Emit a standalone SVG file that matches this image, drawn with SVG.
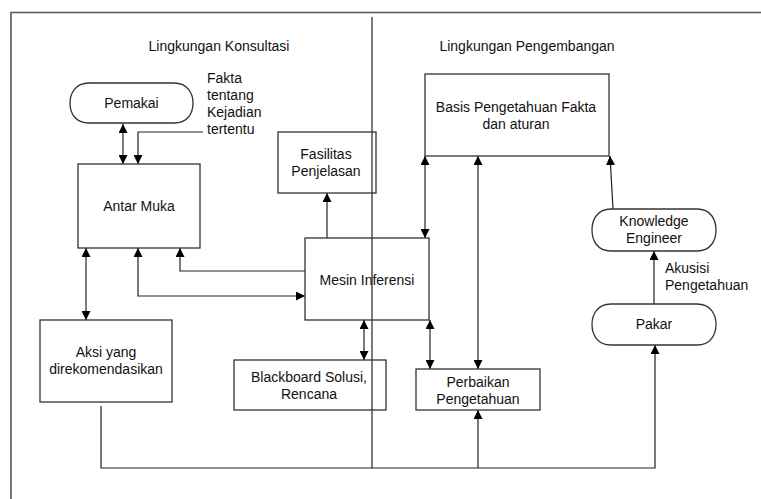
<svg xmlns="http://www.w3.org/2000/svg" width="761" height="499" viewBox="0 0 761 499">
<defs>
<marker id="ah" viewBox="0 0 10 10" refX="10" refY="5" markerWidth="9" markerHeight="9" markerUnits="userSpaceOnUse" orient="auto-start-reverse">
<path d="M0,0 L10,5 L0,10 Z" fill="#000"/>
</marker>
</defs>
<style>
.box{fill:none;stroke:#333;stroke-width:1.3}
.frame{fill:none;stroke:#555;stroke-width:1.6}
.ln{fill:none;stroke:#222;stroke-width:1.2}
text{font-family:"Liberation Sans",Arial,sans-serif;font-size:14px;fill:#111}
.c{text-anchor:middle}
</style>
<rect width="761" height="499" fill="#fff"/>
<g id="frame">
<path class="frame" d="M11,499 V12.5 H761"/>
<line class="ln" x1="372" y1="17" x2="372" y2="468" stroke="#333"/>
<text class="c" x="219" y="51">Lingkungan Konsultasi</text>
<text class="c" x="527" y="51">Lingkungan Pengembangan</text>
</g>
<g id="connectors">
<line class="ln" x1="123" y1="124" x2="123" y2="164" marker-start="url(#ah)" marker-end="url(#ah)"/>
<path class="ln" d="M203,132 H138 V164" marker-end="url(#ah)"/>
<line class="ln" x1="327" y1="238" x2="327" y2="193" marker-end="url(#ah)"/>
<path class="ln" d="M305,271 H180 V248" marker-end="url(#ah)"/>
<path class="ln" d="M138,248 V296 H305" marker-start="url(#ah)" marker-end="url(#ah)"/>
<line class="ln" x1="86" y1="248" x2="86" y2="320" marker-start="url(#ah)" marker-end="url(#ah)"/>
<line class="ln" x1="364" y1="320" x2="364" y2="360" marker-start="url(#ah)" marker-end="url(#ah)"/>
<line class="ln" x1="425" y1="156" x2="425" y2="238" marker-start="url(#ah)" marker-end="url(#ah)"/>
<line class="ln" x1="430" y1="320" x2="430" y2="369" marker-start="url(#ah)" marker-end="url(#ah)"/>
<line class="ln" x1="478" y1="156" x2="478" y2="369" marker-start="url(#ah)" marker-end="url(#ah)"/>
<line class="ln" x1="613" y1="209" x2="610" y2="156" marker-end="url(#ah)"/>
<line class="ln" x1="654" y1="304" x2="654" y2="251" marker-end="url(#ah)"/>
<path class="ln" d="M101,406 V468 H655 V345" marker-end="url(#ah)"/>
<line class="ln" x1="478" y1="468" x2="478" y2="410" marker-end="url(#ah)"/>
<text x="207" y="83">Fakta</text>
<text x="207" y="100">tentang</text>
<text x="207" y="117">Kejadian</text>
<text x="207" y="134">tertentu</text>
<text x="665" y="273">Akusisi</text>
<text x="665" y="290">Pengetahuan</text>
</g>
<g id="pemakai">
<path class="box" d="M89,83 H174 C188,83 193,94 193,103 C193,113 188,123 174,123 H89 C75,123 70,113 70,103 C70,94 75,83 89,83 Z"/>
<text class="c" x="131.5" y="108">Pemakai</text>
</g>
<g id="antar-muka">
<rect class="box" x="78" y="164" width="122" height="84"/>
<text class="c" x="139" y="211">Antar Muka</text>
</g>
<g id="fasilitas">
<rect class="box" x="278" y="132" width="98" height="61"/>
<text class="c" x="326" y="159">Fasilitas</text>
<text class="c" x="326" y="176">Penjelasan</text>
</g>
<g id="mesin">
<rect class="box" x="305" y="238" width="124" height="82"/>
<text class="c" x="367" y="285">Mesin Inferensi</text>
</g>
<g id="aksi">
<rect class="box" x="40" y="320" width="132" height="82"/>
<text class="c" x="106" y="357">Aksi yang</text>
<text class="c" x="106" y="374">direkomendasikan</text>
</g>
<g id="blackboard">
<rect class="box" x="234" y="360" width="152" height="50"/>
<text class="c" x="309" y="382">Blackboard Solusi,</text>
<text class="c" x="309" y="399">Rencana</text>
</g>
<g id="basis">
<rect class="box" x="425" y="74" width="184" height="82"/>
<text class="c" x="516" y="112">Basis Pengetahuan Fakta</text>
<text class="c" x="516" y="129">dan aturan</text>
</g>
<g id="perbaikan">
<rect class="box" x="416" y="369" width="124" height="41"/>
<text class="c" x="478" y="387">Perbaikan</text>
<text class="c" x="478" y="404">Pengetahuan</text>
</g>
<g id="knowledge-engineer">
<path class="box" d="M611,209 H697 C711,209 716,220 716,230 C716,240 711,251 697,251 H611 C597,251 592,240 592,230 C592,220 597,209 611,209 Z"/>
<text class="c" x="654" y="226">Knowledge</text>
<text class="c" x="654" y="243">Engineer</text>
</g>
<g id="pakar">
<path class="box" d="M611,304 H697 C711,304 716,315 716,324.5 C716,334 711,345 697,345 H611 C597,345 592,334 592,324.5 C592,315 597,304 611,304 Z"/>
<text class="c" x="654" y="329">Pakar</text>
</g>
</svg>
